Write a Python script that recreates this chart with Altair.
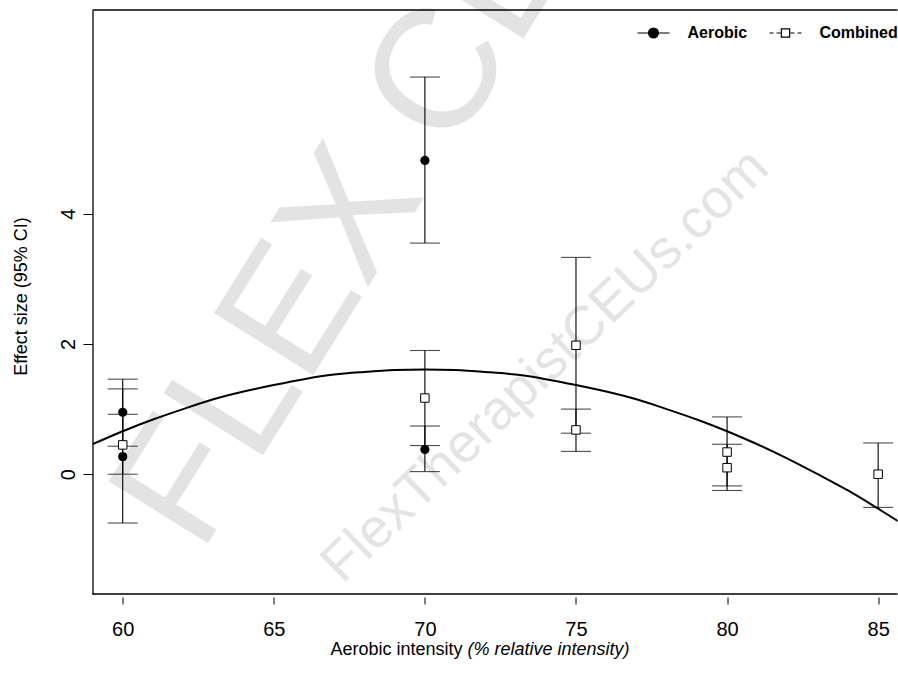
import altair as alt
import pandas as pd

# ---- data ----
aer_x = [60, 60, 70, 70]
aer_es = [0.95, 0.27, 4.82, 0.38]
aer_lo = [0.43, -0.75, 3.55, 0.04]
aer_hi = [1.46, 1.31, 6.10, 0.74]

com_x = [60, 70, 75, 75, 80, 80, 85]
com_es = [0.45, 1.17, 1.98, 0.68, 0.34, 0.10, 0.00]
com_lo = [0.00, 0.44, 0.63, 0.35, -0.18, -0.25, -0.51]
com_hi = [0.92, 1.90, 3.33, 1.00, 0.88, 0.46, 0.48]

curve_x = list(range(59, 87))
curve_y = [0.46, 0.66, 0.84, 1.00, 1.15, 1.27, 1.37, 1.46, 1.53, 1.57,
           1.60, 1.61, 1.60, 1.57, 1.53, 1.46, 1.37, 1.27, 1.15, 1.00,
           0.84, 0.66, 0.46, 0.24, 0.00, -0.25, -0.53, -0.82]

x_ticks = [60, 65, 70, 75, 80, 85]
y_ticks = [0, 2, 4]
legend_labels = ["Aerobic", "Combined"]
x_title_parts = ["Aerobic intensity", "(% relative intensity)"]
y_title = "Effect size (95% CI)"
watermark = ["FLEX CEUs", "FlexTherapistCEUs.com"]

# ---- layout ----
W, H = 805, 584
FONT = "Liberation Sans"

aer = pd.DataFrame({"group": "Aerobic", "x": aer_x, "es": aer_es, "lo": aer_lo, "hi": aer_hi})
com = pd.DataFrame({"group": "Combined", "x": com_x, "es": com_es, "lo": com_lo, "hi": com_hi})
pts = pd.concat([aer, com], ignore_index=True)
curve = pd.DataFrame({"x": curve_x, "y": curve_y})

xscale = alt.Scale(domain=[59, 85.64], nice=False, zero=False)
yscale = alt.Scale(domain=[-1.84, 7.13], nice=False, zero=False)

xaxis = alt.Axis(values=x_ticks, title=None, domain=False, grid=False,
                 tickSize=7, tickWidth=1, tickColor="black", offset=3,
                 labelFont=FONT, labelFontSize=20, labelColor="black",
                 labelPadding=15, format="d")
yaxis = alt.Axis(values=y_ticks, title=y_title, grid=False,
                 domain=True, domainColor="black", domainWidth=1.3,
                 tickSize=9.5, tickWidth=1, tickColor="black",
                 labelFont=FONT, labelFontSize=20, labelColor="black",
                 labelAngle=270, labelAlign="center", labelBaseline="alphabetic",
                 labelPadding=9, format="d",
                 titleFont=FONT, titleFontSize=18, titleFontWeight="normal",
                 titleColor="black", titleAngle=270, titleAlign="center",
                 titleBaseline="alphabetic", titleX=-66, titleY=286)

X = alt.X("x:Q", scale=xscale, axis=xaxis)

one = pd.DataFrame({"a": [0]})

wm1 = alt.Chart(pd.DataFrame({"t": [watermark[0]]})).mark_text(
    font=FONT, fontSize=170, angle=302, align="left",
    baseline="alphabetic", color="#e3e3e3").encode(
    x=alt.value(108), y=alt.value(545), text="t:N")
wm2 = alt.Chart(pd.DataFrame({"t": [watermark[1]]})).mark_text(
    font=FONT, fontSize=55, angle=316, align="left", baseline="alphabetic",
    color="#e4e4e4").encode(x=alt.value(250), y=alt.value(575), text="t:N")

bars = alt.Chart(pts).mark_rule(color="black", strokeWidth=1.1).encode(
    x=X, y=alt.Y("lo:Q", scale=yscale, axis=yaxis), y2="hi:Q")
cap_lo = alt.Chart(pts).mark_tick(orient="horizontal", size=30, thickness=1.1, color="black").encode(
    x=X, y=alt.Y("lo:Q", scale=yscale))
cap_hi = alt.Chart(pts).mark_tick(orient="horizontal", size=30, thickness=1.1, color="black").encode(
    x=X, y=alt.Y("hi:Q", scale=yscale))

line = alt.Chart(curve).mark_line(color="black", strokeWidth=2, clip=True,
                                  interpolate="monotone").encode(
    x=X, y=alt.Y("y:Q", scale=yscale))

p_aer = alt.Chart(aer).mark_point(shape="circle", filled=True, color="black",
                                  size=85, opacity=1).encode(
    x=X, y=alt.Y("es:Q", scale=yscale))
p_com = alt.Chart(com).mark_point(shape="square", fill="white", stroke="black",
                                  strokeWidth=1, size=72, opacity=1, filled=False).encode(
    x=X, y=alt.Y("es:Q", scale=yscale))

# legend carried by an invisible layer
path_aer = "M-1,0H1M0.31,0A0.31,0.31,0,1,1,-0.31,0A0.31,0.31,0,1,1,0.31,0Z"
path_com = ("M-1,0H-0.75M-0.56,0H-0.31M0.31,0H0.56M0.75,0H1"
            "M-0.26,-0.26H0.26V0.26H-0.26Z")
leg = alt.Legend(title=None, orient="none", legendX=544, legendY=6,
                 direction="horizontal", labelFont=FONT, labelFontWeight="bold",
                 labelFontSize=16, labelColor="black", symbolSize=1024,
                 symbolStrokeWidth=1.2, symbolOpacity=1,
                 labelOffset=17, columnPadding=19, padding=0)
legend_layer = alt.Chart(pd.DataFrame({"group": legend_labels})).mark_point(
    opacity=0).encode(
    shape=alt.Shape("group:N", scale=alt.Scale(domain=legend_labels, range=[path_aer, path_com]), legend=leg),
    fill=alt.Fill("group:N", scale=alt.Scale(domain=legend_labels, range=["black", "white"]), legend=leg),
    stroke=alt.Stroke("group:N", scale=alt.Scale(domain=legend_labels, range=["black", "black"]), legend=leg),
)

frame_top = alt.Chart(one).mark_rule(color="black", strokeWidth=1.3).encode(
    x=alt.value(0), x2=alt.value(W), y=alt.value(0))
frame_bot = alt.Chart(one).mark_rule(color="black", strokeWidth=1.3).encode(
    x=alt.value(0), x2=alt.value(W), y=alt.value(H))

xt1 = alt.Chart(pd.DataFrame({"t": [x_title_parts[0]]})).mark_text(
    font=FONT, fontSize=18, align="left", baseline="alphabetic", color="black").encode(
    x=alt.value(238), y=alt.value(645), text="t:N")
xt2 = alt.Chart(pd.DataFrame({"t": [x_title_parts[1]]})).mark_text(
    font=FONT, fontSize=18, fontStyle="italic", align="left", baseline="alphabetic",
    color="black").encode(x=alt.value(375), y=alt.value(645), text="t:N")

chart = alt.layer(
    wm1, wm2, bars, cap_lo, cap_hi, line, p_aer, p_com, legend_layer,
    frame_top, frame_bot, xt1, xt2
).resolve_scale(shape="independent", fill="independent", stroke="independent").properties(
    width=W, height=H,
    autosize=alt.AutoSizeParams(type="none"),
    padding={"left": 92.5, "top": 10, "right": 0.5, "bottom": 92},
    background="white",
).configure_view(stroke=None)

chart.save("out.html", embed_options={"renderer": "svg", "actions": False})
